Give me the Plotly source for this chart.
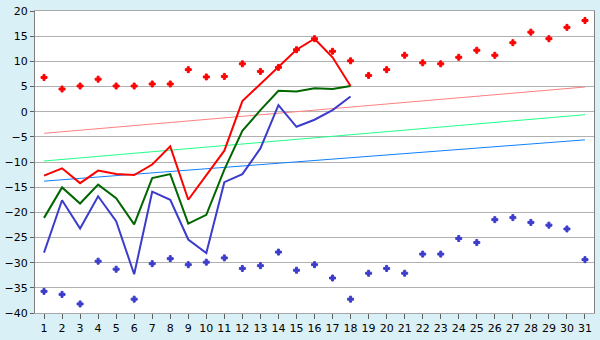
import plotly.graph_objects as go

days = list(range(1, 32))
line_days = list(range(1, 19))

max_line = [-12.7, -11.25, -14.2, -11.7, -12.4, -12.6, -10.5, -6.9, -17.5, -12.6, -7.75, 2.1, 5.5, 8.9, 12.3, 14.5, 10.8, 5.1]
mean_line = [-21.1, -15.05, -18.25, -14.5, -17.2, -22.4, -13.2, -12.4, -22.25, -20.5, -11.5, -3.8, 0.3, 4.15, 4.0, 4.65, 4.5, 5.1]
min_line = [-28.0, -17.6, -23.2, -16.8, -21.75, -32.3, -15.9, -17.5, -25.4, -28.1, -14.0, -12.4, -7.3, 1.3, -3.0, -1.6, 0.3, 3.0]

max_pts = [6.8, 4.5, 5.1, 6.45, 5.1, 5.1, 5.5, 5.5, 8.35, 6.9, 7.0, 9.5, 8.0, 8.8, 12.3, 14.5, 12.0, 10.1,
           7.2, 8.35, 11.2, 9.7, 9.5, 10.8, 12.2, 11.2, 13.7, 15.8, 14.5, 16.75, 18.1]
min_pts = [-35.7, -36.3, -38.2, -29.7, -31.3, -37.25, -30.2, -29.2, -30.4, -29.9, -29.05, -31.15, -30.6, -27.9,
           -31.5, -30.4, -33.05, -37.25, -32.1, -31.15, -32.1, -28.3, -28.3, -25.2, -26.0, -21.45, -21.05, -22.0,
           -22.55, -23.3, -29.4]

trend_days = [1, 31]
trend_max = [-4.3, 4.9]
trend_mean = [-9.8, -0.6]
trend_min = [-13.8, -5.6]

y_ticks = list(range(-40, 21, 5))

fig = go.Figure()
fig.add_trace(go.Scatter(x=trend_days, y=trend_max, mode="lines", line=dict(color="#ff8080", width=1)))
fig.add_trace(go.Scatter(x=trend_days, y=trend_mean, mode="lines", line=dict(color="#22ff88", width=1)))
fig.add_trace(go.Scatter(x=trend_days, y=trend_min, mode="lines", line=dict(color="#1080ff", width=1)))
fig.add_trace(go.Scatter(x=line_days, y=min_line, mode="lines", line=dict(color="#3c3ccc", width=2)))
fig.add_trace(go.Scatter(x=line_days, y=mean_line, mode="lines", line=dict(color="#006600", width=2)))
fig.add_trace(go.Scatter(x=line_days, y=max_line, mode="lines", line=dict(color="#ff0000", width=2)))
fig.add_trace(go.Scatter(x=days, y=max_pts, mode="markers",
                         marker=dict(symbol="cross", size=5, color="#ff0000", line=dict(width=1, color="#ff0000"))))
fig.add_trace(go.Scatter(x=days, y=min_pts, mode="markers",
                         marker=dict(symbol="cross", size=5, color="#3c3ccc", line=dict(width=1, color="#3c3ccc"))))

fig.update_layout(
    width=600, height=340,
    margin=dict(l=26, r=5, t=5, b=20),
    paper_bgcolor="#daf0f7",
    plot_bgcolor="#ffffff",
    showlegend=False,
    font=dict(family="DejaVu Sans", size=11, color="#000000"),
    xaxis=dict(range=[0.5, 31.5], tickmode="array", tickvals=days, ticktext=[str(d) for d in days],
               showgrid=False, zeroline=False, showline=True, linecolor="#a8a8a8", linewidth=1, mirror=True,
               ticks="outside", ticklen=5, tickcolor="#606060"),
    yaxis=dict(range=[-40.0001, 20.0001], tickmode="array", tickvals=y_ticks,
               ticktext=[str(v).replace("-", "\u2212") for v in y_ticks], ticklabeloverflow="allow",
               showgrid=True, gridcolor="#b0b0b0", gridwidth=1, zeroline=False,
               showline=True, linecolor="#808080", linewidth=1, mirror=True,
               ticks="outside", ticklen=4, tickcolor="#606060"),
)

fig.write_html("out.html")
